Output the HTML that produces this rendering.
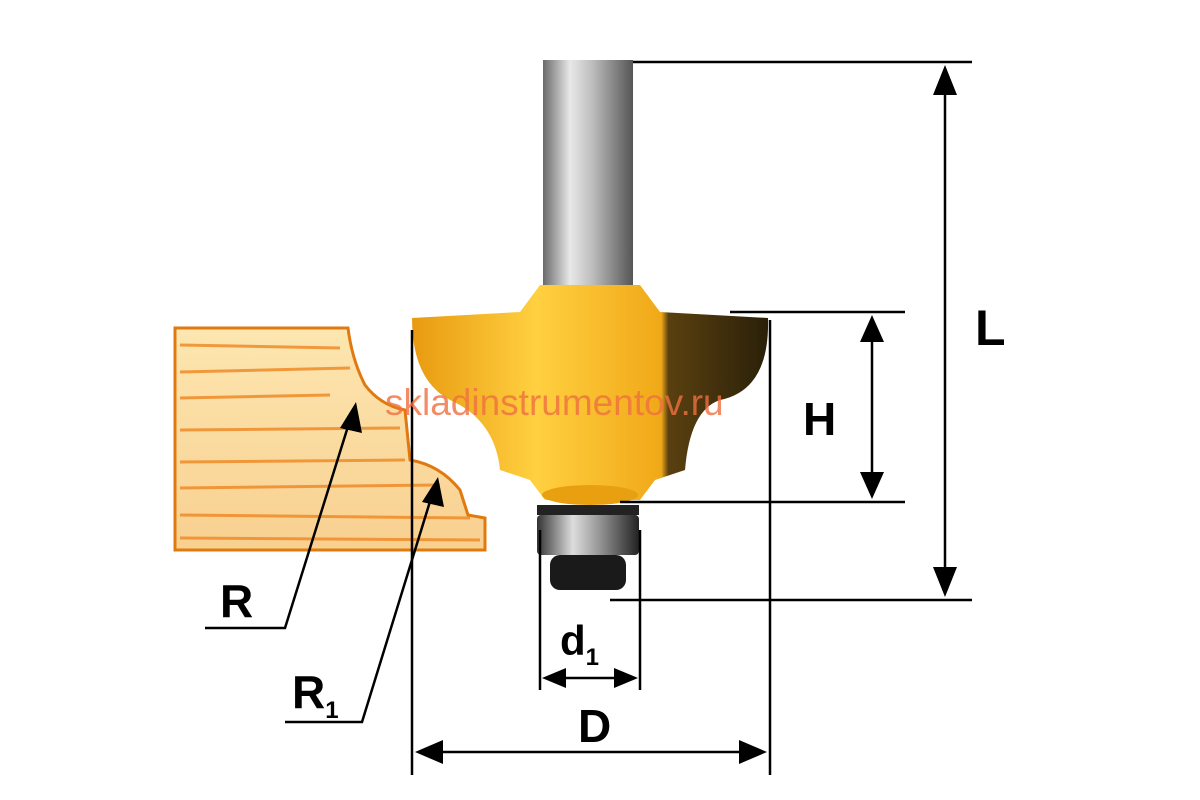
<!DOCTYPE html>
<html><head><meta charset="utf-8"><style>
html,body{margin:0;padding:0;background:#fff;}
svg{display:block}
</style></head><body>
<svg width="1200" height="800" viewBox="0 0 1200 800" xmlns="http://www.w3.org/2000/svg">
<defs>
<linearGradient id="shank" x1="0" x2="1" y1="0" y2="0">
<stop offset="0" stop-color="#6a6a6a"/><stop offset="0.3" stop-color="#e8e8e8"/><stop offset="0.55" stop-color="#bdbdbd"/><stop offset="1" stop-color="#555"/></linearGradient>
<linearGradient id="body" x1="0" x2="1" y1="0" y2="0">
<stop offset="0" stop-color="#e89a10"/><stop offset="0.35" stop-color="#ffd040"/><stop offset="0.7" stop-color="#f0a818"/><stop offset="0.72" stop-color="#5a4010"/><stop offset="1" stop-color="#2a2008"/></linearGradient>
<linearGradient id="bear" x1="0" x2="1" y1="0" y2="0">
<stop offset="0" stop-color="#333"/><stop offset="0.35" stop-color="#ddd"/><stop offset="0.6" stop-color="#999"/><stop offset="1" stop-color="#222"/></linearGradient>
<linearGradient id="wood" x1="0" x2="0" y1="0" y2="1">
<stop offset="0" stop-color="#fde6b0"/><stop offset="1" stop-color="#f8d090"/></linearGradient>
</defs>
<path d="M175,328 L348,328 Q352,360 365,385 Q380,405 405,410 L410,460 Q440,465 460,490 L468,515 L485,518 L485,550 L175,550 Z" fill="url(#wood)" stroke="#e07a10" stroke-width="3"/>
<g stroke="#f09030" stroke-width="3" opacity="0.9">
<line x1="180" y1="345" x2="340" y2="348"/><line x1="180" y1="372" x2="350" y2="368"/><line x1="180" y1="398" x2="330" y2="395"/>
<line x1="180" y1="430" x2="400" y2="428"/><line x1="180" y1="462" x2="405" y2="460"/><line x1="180" y1="488" x2="440" y2="485"/>
<line x1="180" y1="515" x2="470" y2="518"/><line x1="180" y1="538" x2="480" y2="540"/>
</g>
<rect x="543" y="60" width="90" height="235" fill="url(#shank)"/>
<path d="M540,285 L640,285 L660,312 L768,318 Q770,390 720,400 Q690,410 685,470 L655,480 L640,500 L545,500 L530,480 L500,470 Q495,420 450,400 Q412,380 412,318 L520,312 Z" fill="url(#body)"/>
<ellipse cx="590" cy="495" rx="48" ry="10" fill="#e8a010"/>
<rect x="537" y="505" width="102" height="10" fill="#222"/>
<rect x="537" y="515" width="102" height="40" fill="url(#bear)" rx="4"/>
<rect x="550" y="555" width="76" height="35" fill="#1a1a1a" rx="10"/>
<g stroke="#000" stroke-width="2.5" fill="none">
<line x1="633" y1="62" x2="972" y2="62"/><line x1="610" y1="600" x2="972" y2="600"/>
<line x1="945" y1="85" x2="945" y2="578"/>
<line x1="730" y1="312" x2="905" y2="312"/><line x1="620" y1="502" x2="905" y2="502"/>
<line x1="872" y1="335" x2="872" y2="480"/>
<line x1="412" y1="330" x2="412" y2="775"/><line x1="770" y1="320" x2="770" y2="775"/>
<line x1="435" y1="752" x2="748" y2="752"/>
<line x1="540" y1="530" x2="540" y2="690"/><line x1="640" y1="530" x2="640" y2="690"/>
<line x1="560" y1="678" x2="620" y2="678"/>
<polyline points="205,628 285,628 350,420"/>
<polyline points="285,722 362,722 432,495"/>
</g>
<g fill="#000">
<polygon points="945,65 933,95 957,95"/><polygon points="945,597 933,567 957,567"/>
<polygon points="872,315 860,342 884,342"/><polygon points="872,499 860,472 884,472"/>
<polygon points="415,752 443,740 443,764"/><polygon points="767,752 739,740 739,764"/>
<polygon points="542,678 566,668 566,688"/><polygon points="638,678 614,668 614,688"/>
<polygon points="356,402 340,428 362,433"/><polygon points="438,477 422,502 444,507"/>
</g>
<g font-family="Liberation Sans, sans-serif" font-weight="bold" fill="#000">
<text x="975" y="345" font-size="50">L</text>
<text x="803" y="435" font-size="46">H</text>
<text x="578" y="742" font-size="46">D</text>
<text x="560" y="655" font-size="42">d<tspan font-size="24" dy="10">1</tspan></text>
<text x="220" y="617" font-size="46">R</text>
<text x="292" y="708" font-size="46">R<tspan font-size="24" dy="10">1</tspan></text>
</g>
<text x="385" y="415" font-family="Liberation Sans, sans-serif" font-size="37" fill="#f07040" opacity="0.8">skladinstrumentov.ru</text>
</svg>
</body></html>
